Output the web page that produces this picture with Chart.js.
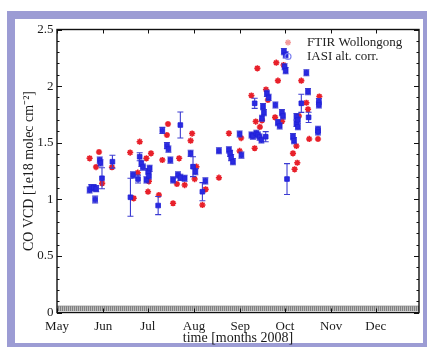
<!DOCTYPE html>
<html><head><meta charset="utf-8">
<script src="https://cdn.jsdelivr.net/npm/chart.js@4/dist/chart.umd.min.js"></script>
<style>
html,body{margin:0;padding:0;background:#fff;width:427px;height:347px;overflow:hidden}
#frame{position:absolute;left:7px;top:11px;width:420px;height:336px;background:#9c9cd4}
#inner{position:absolute;left:8px;top:8px;width:408px;height:324px;background:#fff}
canvas{position:absolute;left:0;top:0}
</style></head><body>
<div id="frame"><div id="inner"></div></div>
<canvas id="c" width="427" height="347"></canvas>
<script>
// ---- data (days since 1 May 2008) ----
const monthLabels = ['May','Jun','Jul','Aug','Sep','Oct','Nov','Dec'];
const monthStarts = [0,31,61,92,123,153,184,214];
const xRange = [0, 243];
const yTicks = [0,0.5,1,1.5,2,2.5];
const zeroBand = [0.013, 0.057];

const ftirDay = [21.9,28.2,26.2,30.3,36.9,49.1,51.5,54.2,55.5,60.0,63.1,61.1,61.7,68.4,70.7,74.5,73.8,82.0,77.9,80.5,
  85.7,89.7,90.7,93.6,92.4,97.6,99.8,108.7,115.4,122.6,123.6,130.5,132.7,133.4,134.5,136.2,137.6,140.3,141.6,147.2,
  146.4,148.3,151.1,152.1,158.4,159.5,161.3,160.7,162.4,164.0,167.4,168.5,169.3,175.2,176.1];
const ftirCO = [1.362,1.418,1.285,1.141,1.283,1.413,1.009,1.235,1.509,1.362,1.406,1.067,1.159,1.038,1.347,1.665,1.568,1.362,0.965,1.135,
  1.126,1.518,1.581,1.288,1.179,0.950,1.088,1.191,1.583,1.427,1.541,1.917,1.451,1.687,2.157,1.639,1.698,1.970,1.877,2.207,
  1.724,2.048,1.690,2.186,1.406,1.265,1.323,1.471,1.736,2.048,1.853,1.795,1.533,1.533,1.908];

const iasiDay = [21.9,23.0,24.6,26.3,25.6,28.7,29.2,30.2,37.2,49.3,51.0,54.4,55.5,56.6,57.7,60.0,61.2,62.2,61.7,67.9,
  70.7,73.8,74.8,76.1,77.9,81.2,82.8,82.8,85.7,89.7,91.3,92.9,97.6,99.6,108.7,115.4,116.2,116.9,118.1,122.6,
  123.8,130.5,131.5,133.8,134.9,136.0,137.2,140.1,132.7,138.3,138.9,137.6,140.9,142.1,146.6,148.3,149.5,151.0,151.7,152.3,
  153.5,152.8,153.5,154.4,158.4,159.1,160.7,161.7,160.7,161.7,164.0,167.4,168.5,168.9,175.2,175.2,175.8,175.8];
const iasiCO = [1.082,1.104,1.104,1.095,0.998,1.347,1.321,1.186,1.332,1.018,1.215,1.179,1.376,1.318,1.285,1.171,1.244,1.274,1.206,0.945,
  1.608,1.475,1.444,1.347,1.171,1.215,1.194,1.656,1.186,1.406,1.288,1.244,1.067,1.162,1.429,1.436,1.405,1.369,1.332,1.577,
  1.391,1.568,1.559,1.583,1.568,1.550,1.524,1.553,1.848,1.818,1.765,1.716,1.936,1.901,1.833,1.677,1.648,1.765,1.736,2.304,
  2.275,2.171,2.136,1.179,1.553,1.518,1.671,1.641,1.730,1.701,1.848,2.118,1.951,1.724,1.618,1.595,1.862,1.833];
const iasiErr = [0.027,0.027,0.027,0.027,0.03,0.027,0.027,0.093,0.057,0.168,0.027,0.035,0.035,0.027,0.027,0.027,0.027,0.027,0.027,0.08,
  0.027,0.027,0.027,0.027,0.027,0.027,0.027,0.115,0.027,0.027,0.088,0.027,0.08,0.027,0.027,0.027,0.027,0.027,0.027,0.027,
  0.027,0.027,0.027,0.027,0.027,0.027,0.027,0.045,0.045,0.027,0.027,0.027,0.027,0.027,0.027,0.027,0.027,0.027,0.027,0.027,
  0.027,0.027,0.027,0.136,0.027,0.027,0.027,0.027,0.027,0.027,0.08,0.027,0.027,0.045,0.027,0.027,0.027,0.027];

const legendLabels = ['FTIR Wollongong','IASI alt. corr.'];

// ---- build library data ----
const ftirPts = ftirDay.map((d,i)=>({x:d,y:ftirCO[i]}));
const iasiPts = iasiDay.map((d,i)=>({x:d,y:iasiCO[i]}));
const errPts = [];
iasiDay.forEach((d,i)=>{
  errPts.push({x:d,y:iasiCO[i]-iasiErr[i]});
  errPts.push({x:d,y:iasiCO[i]+iasiErr[i]});
  errPts.push({x:d,y:null});
});
const bandPts = xRange.map(d=>({x:d,y:zeroBand[1]}));

// hatch pattern for band
const pc = document.createElement('canvas'); pc.width=2; pc.height=1;
const pctx = pc.getContext('2d');
pctx.fillStyle='#bdbdbd'; pctx.fillRect(0,0,2,1);
pctx.fillStyle='#808080'; pctx.fillRect(0,0,1,1);
const hatch = document.getElementById('c').getContext('2d').createPattern(pc,'repeat');

const SERIF = '"Liberation Serif", "Times New Roman", serif';

const frameTicks = {
  id:'frameTicks',
  afterDatasetsDraw(chart){
    const {ctx, chartArea:a, scales:{x,y}} = chart;
    ctx.save();
    ctx.strokeStyle='#111'; ctx.lineWidth=1;
    const ln=(x1,y1,x2,y2)=>{ctx.beginPath();ctx.moveTo(x1,y1);ctx.lineTo(x2,y2);ctx.stroke();};
    monthStarts.forEach(v=>{
      const px=Math.round(x.getPixelForValue(v))+0.5;
      ln(px,a.bottom,px,a.bottom-4); ln(px,a.top,px,a.top+4);
    });
    for(let k=0;k<=25;k++){
      const v=k/10, major=(k%5===0), len=major?5:2.5;
      const py=Math.round(y.getPixelForValue(v))+0.5;
      ln(a.left,py,a.left+len,py); ln(a.right,py,a.right-len,py);
    }
    ctx.lineWidth=1.4;
    ctx.strokeRect(a.left,a.top,a.right-a.left,a.bottom-a.top);
    ctx.restore();
  },
  afterDraw(chart){
    const {ctx, chartArea:a} = chart;
    ctx.save();
    const mx=a.right-131, tx=a.right-112, y1=a.top+13, y2=a.top+27;
    ctx.strokeStyle='#f29a9a'; ctx.lineWidth=1.5;
    for(let k=0;k<4;k++){
      const ang=k*Math.PI/4;
      ctx.beginPath();
      ctx.moveTo(mx-3*Math.cos(ang),y1-3*Math.sin(ang));
      ctx.lineTo(mx+3*Math.cos(ang),y1+3*Math.sin(ang));
      ctx.stroke();
    }
    ctx.strokeStyle='#7f84f0'; ctx.lineWidth=1.2;
    ctx.beginPath(); ctx.arc(mx,y2,3,0,2*Math.PI); ctx.stroke();
    ctx.fillStyle='#222'; ctx.font='13px '+SERIF; ctx.textBaseline='middle';
    ctx.fillText(legendLabels[0],tx,y1);
    ctx.fillText(legendLabels[1],tx,y2);
    ctx.restore();
  }
};

new Chart(document.getElementById('c'),{
  type:'scatter',
  data:{datasets:[
    {label:'band',data:bandPts,showLine:true,pointRadius:0,borderColor:'#8c8c8c',borderWidth:0.8,
     backgroundColor:hatch,fill:{value:zeroBand[0]},order:4},
    {label:legendLabels[0],data:ftirPts,pointStyle:'star',pointRadius:3.1,pointBorderWidth:1.6,
     borderColor:'#e8202a',backgroundColor:'#e8202a',order:3},
    {label:'err',data:errPts,showLine:true,spanGaps:false,borderColor:'#3c3cd2',borderWidth:1.1,
     pointStyle:'line',pointRadius:3,pointBorderWidth:1.1,pointBorderColor:'#3c3cd2',backgroundColor:'#3c3cd2',order:2},
    {label:legendLabels[1],data:iasiPts,pointStyle:'rect',pointRadius:3.3,pointBorderWidth:0.8,
     borderColor:'#2020d8',backgroundColor:'#2a2ae0',order:1}
  ]},
  options:{
    responsive:false,animation:false,devicePixelRatio:1,
    layout:{padding:{left:0,right:8,top:29.5,bottom:0}},
    plugins:{legend:{display:false},tooltip:{enabled:false}},
    scales:{
      x:{type:'linear',min:xRange[0],max:xRange[1],
        grid:{display:false,drawTicks:false},border:{display:false},
        afterBuildTicks:(s)=>{s.ticks=monthStarts.map(v=>({value:v}));},
        afterFit:(s)=>{s.height=34.5;},
        ticks:{autoSkip:false,maxRotation:0,padding:6.5,color:'#1a1a1a',font:{family:SERIF,size:13},
          callback:(v)=>monthLabels[monthStarts.indexOf(v)]},
        title:{display:true,text:'time [months 2008]',color:'#1a1a1a',font:{family:SERIF,size:14},padding:{top:0,bottom:0}}
      },
      y:{type:'linear',min:yTicks[0],max:yTicks[yTicks.length-1],
        grid:{display:false,drawTicks:false},border:{display:false},
        afterBuildTicks:(s)=>{s.ticks=yTicks.map(v=>({value:v}));},
        afterFit:(s)=>{s.width=57;},
        ticks:{padding:3.5,color:'#1a1a1a',font:{family:SERIF,size:13},callback:(v)=>String(v)},
        title:{display:true,text:'CO VCD [1e18 molec cm⁻²]',color:'#1a1a1a',font:{family:SERIF,size:14},padding:{top:21,bottom:0}}
      }
    }
  },
  plugins:[frameTicks]
});
</script>
</body></html>
